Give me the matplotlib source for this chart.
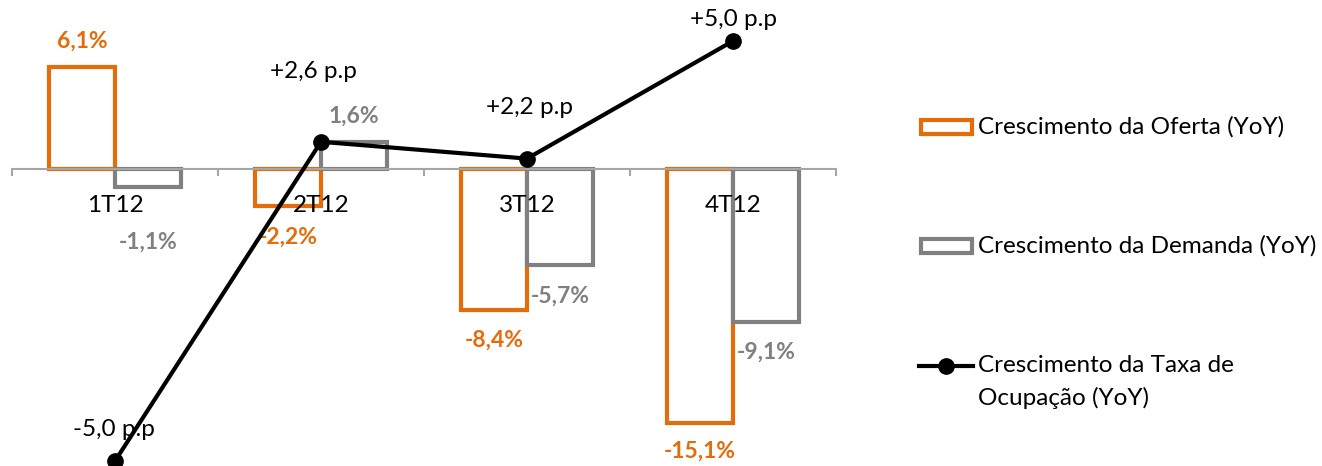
import numpy as np
import matplotlib
matplotlib.use("Agg")
import matplotlib.pyplot as plt
from matplotlib.patches import Rectangle
from matplotlib.lines import Line2D

plt.rcParams["font.family"] = ["Lato", "DejaVu Sans"]

quarters = ["1T12", "2T12", "3T12", "4T12"]
oferta = [6.1, -2.2, -8.4, -15.1]
demanda = [-1.1, 1.6, -5.7, -9.1]
ocupacao = [-5.0, 2.6, 2.2, 5.0]

orange = "#E46C0A"
gray = "#808080"
fs = 17.5

fig = plt.figure(figsize=(13.22, 4.66), dpi=100)
ax = fig.add_axes([12/1322, 0, 824/1322, 1])
ax2 = ax.twinx()

x = np.arange(len(quarters))
w = 0.32
ax.bar(x - w/2, oferta, w, facecolor="white", edgecolor=orange, linewidth=3, zorder=2)
ax.bar(x + w/2, demanda, w, facecolor="white", edgecolor=gray, linewidth=3, zorder=2)

# bar value labels (offsets in pixels from bar end)
off_o = [25, 31, 30, 29]
off_d = [55, 26, 31, 30]
def pct(v):
    return f"{v:.1f}%".replace(".", ",")
for i in range(len(quarters)):
    s = 1 if oferta[i] > 0 else -1
    ax.annotate(pct(oferta[i]), (x[i] - w/2, oferta[i]), xytext=(0, s*off_o[i]),
                textcoords="offset pixels", ha="center", va="center",
                color=orange, fontsize=16.5, fontweight="bold")
    s = 1 if demanda[i] > 0 else -1
    ax.annotate(pct(demanda[i]), (x[i] + w/2, demanda[i]), xytext=(0, s*off_d[i]),
                textcoords="offset pixels", ha="center", va="center",
                color=gray, fontsize=16.5, fontweight="bold")

# category names sit on top of the bars, just under the zero line
for i, q in enumerate(quarters):
    ax.annotate(q, (x[i], 0), xytext=(0, -36), textcoords="offset pixels",
                ha="center", va="center", fontsize=fs, zorder=10)

ax.set_xlim(-0.5, 3.5)
ax.set_ylim(-(466-169)/16.8, 169/16.8)
ax.set_xticks(np.arange(-0.5, 4, 1))
ax.tick_params(axis="x", direction="out", length=5, width=1.5, color="#A6A6A6",
               labelbottom=False)
ax.set_yticks([])
for sp in ["top", "left", "right"]:
    ax.spines[sp].set_visible(False)
ax.spines["bottom"].set_position(("data", 0))
ax.spines["bottom"].set_color("#A6A6A6")
ax.spines["bottom"].set_linewidth(1.5)
ax.patch.set_visible(False)

# occupancy line on secondary axis
ax2.plot(x, ocupacao, "-o", color="black", lw=3, ms=11, zorder=5)
ax2.set_ylim(-(466-251)/42, 251/42)
off_l = [(-1, 31), (-8, 70), (3, 51), (0, 21)]
for i, v in enumerate(ocupacao):
    txt = f"{v:+.1f} p.p".replace(".", ",", 1)
    ax2.annotate(txt, (x[i], v), xytext=off_l[i], textcoords="offset pixels",
                 ha="center", va="center", fontsize=fs, color="black")
ax2.set_yticks([])
for sp in ax2.spines.values():
    sp.set_visible(False)
ax.set_zorder(1)
ax2.set_zorder(2)

# legend drawn in figure pixels
W, H = 1322, 466
def fy(py):
    return 1 - py / H
fig.add_artist(Rectangle((921/W, fy(134)), 51/W, 14/H, transform=fig.transFigure,
                         facecolor="white", edgecolor=orange, lw=3))
fig.add_artist(Rectangle((921/W, fy(253)), 51/W, 14/H, transform=fig.transFigure,
                         facecolor="white", edgecolor=gray, lw=3))
fig.add_artist(Line2D([919/W, 973/W], [fy(366), fy(366)], transform=fig.transFigure,
                      color="black", lw=3))
fig.add_artist(Line2D([946/W], [fy(366)], transform=fig.transFigure,
                      color="black", marker="o", ms=11))
fig.text(978/W, fy(127), "Crescimento da Oferta (YoY)", fontsize=fs, va="center")
fig.text(978/W, fy(246), "Crescimento da Demanda (YoY)", fontsize=fs, va="center")
fig.text(978/W, fy(366), "Crescimento da Taxa de", fontsize=fs, va="center")
fig.text(978/W, fy(398), "Ocupação (YoY)", fontsize=fs, va="center")

fig.savefig("out.png", dpi=100)
